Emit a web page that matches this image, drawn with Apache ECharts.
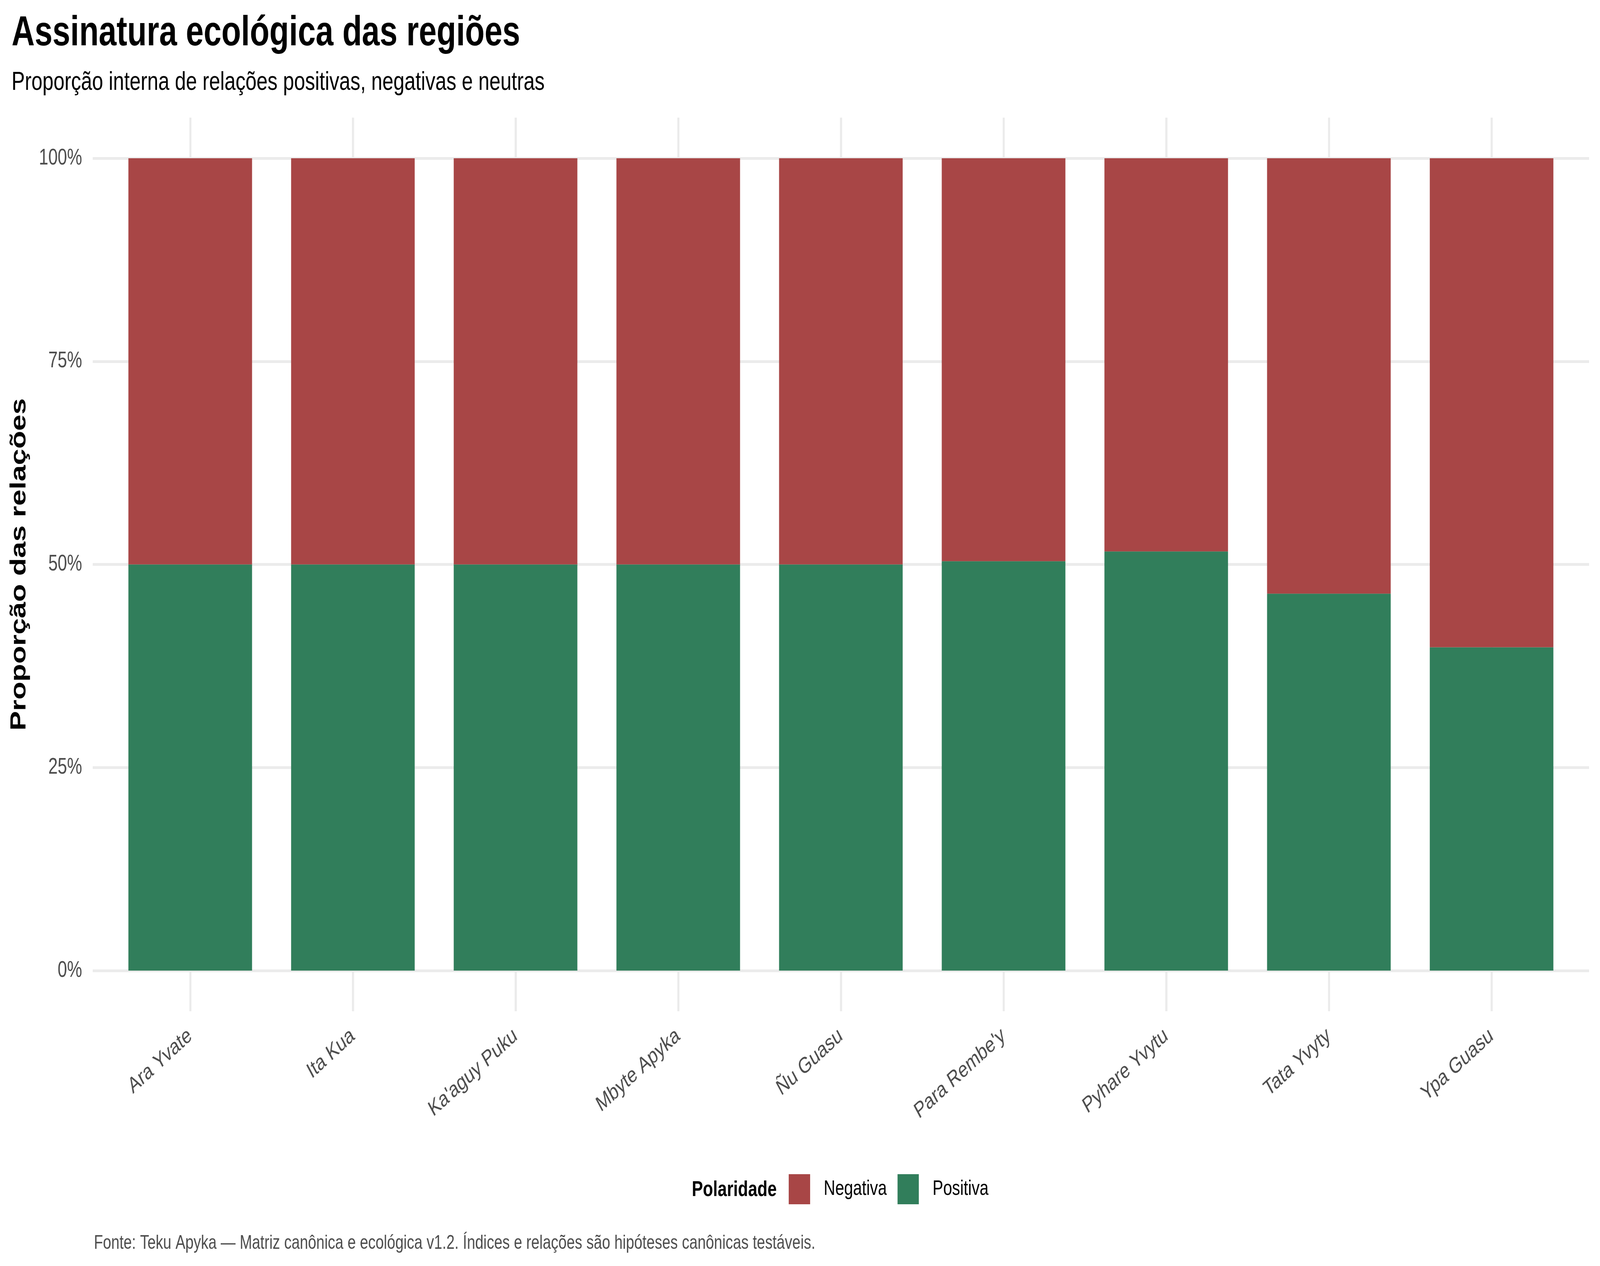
<!DOCTYPE html>
<html>
<head>
<meta charset="utf-8">
<script src="https://cdn.jsdelivr.net/npm/echarts@6/dist/echarts.min.js"></script>
<style>
html,body{margin:0;padding:0;background:#fff;overflow:hidden;}
#wrap{position:absolute;left:0;top:0;overflow:hidden;background:#fff;}
#chart{width:5400px;height:3240px;transform-origin:0 0;}
</style>
</head>
<body>
<div id="wrap"><div id="chart"></div></div>
<script>
const categories = ["Ara Yvate", "Ita Kua", "Ka'aguy Puku", "Mbyte Apyka", "Ñu Guasu", "Para Rembe'y", "Pyhare Yvytu", "Tata Yvyty", "Ypa Guasu"];
const positiva = [0.5, 0.5, 0.5, 0.5, 0.5, 0.504, 0.516, 0.464, 0.398];
const negativa = [0.5, 0.5, 0.5, 0.5, 0.5, 0.496, 0.484, 0.536, 0.602];
const yTicks = [0, 0.25, 0.5, 0.75, 1];
const yTickLabels = ["0%", "25%", "50%", "75%", "100%"];

const FONT = "'Liberation Sans', Arial, Helvetica, sans-serif";
const GRID_COLOR = '#EBEBEB';
const RED = '#A84646';
const GREEN = '#317E5B';

// The chart is laid out on a 5400x3240 frame and mapped onto the real viewport.
const W = 5400, H = 3240;
const vw = window.innerWidth || W, vh = window.innerHeight || H;
const sx = vw / W, sy = vh / H;
const wrap = document.getElementById('wrap');
wrap.style.width = vw + 'px';
wrap.style.height = vh + 'px';
const el = document.getElementById('chart');
el.style.transform = 'scale(' + sx + ',' + sy + ')';

const chart = echarts.init(el, null, {renderer: 'canvas', devicePixelRatio: 1, width: W, height: H});

function tickLabel(v) {
  for (let i = 0; i < yTicks.length; i++) {
    if (Math.abs(yTicks[i] - v) < 1e-9) return yTickLabels[i];
  }
  return '';
}

const option = {
  backgroundColor: '#ffffff',
  animation: false,
  textStyle: {fontFamily: FONT},
  title: [
    {text: 'Assinatura ecológica das regiões', left: 34, top: 27,
     textStyle: {fontFamily: FONT, fontSize: 108, fontWeight: 'bold', color: '#000', lineHeight: 108}},
    {text: 'Proporção interna de relações positivas, negativas e neutras', left: 34, top: 173,
     textStyle: {fontFamily: FONT, fontSize: 67, fontWeight: 'normal', color: '#000', lineHeight: 67}},
    {text: 'Polaridade', left: 2330, top: 3013,
     textStyle: {fontFamily: FONT, fontSize: 56, fontWeight: 'bold', color: '#000', lineHeight: 56}},
    {text: 'Fonte: Teku Apyka — Matriz canônica e ecológica v1.2. Índices e relações são hipóteses canônicas testáveis.',
     left: 312, top: 3152,
     textStyle: {fontFamily: FONT, fontSize: 50, fontWeight: 'normal', color: '#4D4D4D', lineHeight: 50}}
  ],
  legend: {
    data: ['Negativa', 'Positiva'],
    left: 2657, top: 3000,
    orient: 'horizontal',
    icon: 'rect',
    itemWidth: 72, itemHeight: 77, itemGap: 36,
    textStyle: {fontFamily: FONT, fontSize: 54, color: '#000', padding: [0, 0, 0, 41]},
    selectedMode: false
  },
  grid: [
    {left: 313, right: 37, top: 405, bottom: 756},
    {left: 642, right: 366, top: 301, bottom: 652},
    {left: 367.5, right: 91.5, top: 405, bottom: 756}
  ],
  xAxis: [
    {gridIndex: 0, type: 'value', show: false, min: 0, max: 1},
    {gridIndex: 1, type: 'category', data: categories, boundaryGap: false,
     axisLine: {show: false}, axisTick: {show: false},
     splitLine: {show: true, lineStyle: {color: GRID_COLOR, width: 7}},
     axisLabel: {rotate: 35, margin: 57, fontFamily: FONT, fontSize: 57, color: '#4D4D4D', interval: 0}},
    {gridIndex: 2, type: 'category', data: categories, boundaryGap: true, show: false}
  ],
  yAxis: [
    {gridIndex: 0, type: 'value', min: 0, max: 1, interval: 0.25,
     axisLine: {show: false}, axisTick: {show: false},
     splitLine: {show: true, lineStyle: {color: GRID_COLOR, width: 7}},
     axisLabel: {margin: 36, fontFamily: FONT, fontSize: 57, color: '#4D4D4D', formatter: tickLabel},
     name: 'Proporção das relações', nameLocation: 'middle', nameRotate: 90, nameGap: 210,
     nameTextStyle: {fontFamily: FONT, fontSize: 75, fontWeight: 'bold', color: '#000'}},
    {gridIndex: 1, type: 'value', show: false, min: 0, max: 1},
    {gridIndex: 2, type: 'value', show: false, min: 0, max: 1}
  ],
  series: [
    {name: 'Positiva', type: 'bar', stack: 'total', xAxisIndex: 2, yAxisIndex: 2,
     data: positiva, barWidth: '76%', itemStyle: {color: GREEN}},
    {name: 'Negativa', type: 'bar', stack: 'total', xAxisIndex: 2, yAxisIndex: 2,
     data: negativa, barWidth: '76%', itemStyle: {color: RED}}
  ]
};
chart.setOption(option);
</script>
</body>
</html>
